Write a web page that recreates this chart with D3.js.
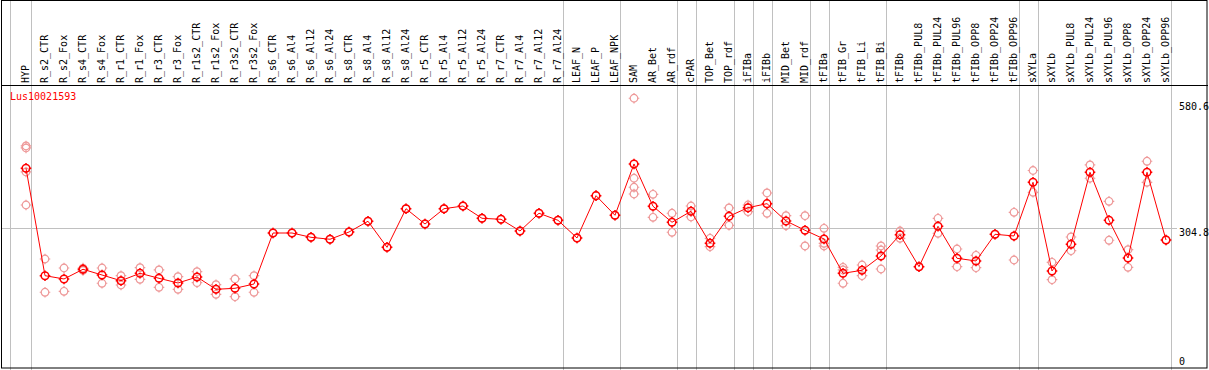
<!DOCTYPE html>
<html lang="en">
<head>
    <meta charset="utf-8">
    <title>Lus10021593</title>
    <script type="text/javascript" src="https://d3js.org/d3.v7.min.js"></script>
    <style>
        body { margin: 0; background: #fff; }
        text { font-family: "DejaVu Sans Mono", monospace; font-size: 10px; }
        .frame { fill: none; stroke: #000; stroke-width: 1; }
        .grid { stroke: #c0c0c0; stroke-width: 1; }
        .meanline { fill: none; stroke: #f00; stroke-width: 1; }
        .mean { fill: none; stroke: #f00; stroke-width: 1.5; }
        .rep { fill: none; stroke: #ee9a9a; stroke-width: 1.2; }
    </style>
</head>
<body>
<div id="container"></div>
<script type="text/javascript">
    const w = 1209;
    const h = 370;

    const gene = "Lus10021593";

    const samples = ["HYP", "R_s2_CTR", "R_s2_Fox", "R_s4_CTR", "R_s4_Fox", "R_r1_CTR", "R_r1_Fox",
        "R_r3_CTR", "R_r3_Fox", "R_r1s2_CTR", "R_r1s2_Fox", "R_r3s2_CTR", "R_r3s2_Fox",
        "R_s6_CTR", "R_s6_Al4", "R_s6_Al12", "R_s6_Al24", "R_s8_CTR", "R_s8_Al4", "R_s8_Al12", "R_s8_Al24",
        "R_r5_CTR", "R_r5_Al4", "R_r5_Al12", "R_r5_Al24", "R_r7_CTR", "R_r7_Al4", "R_r7_Al12", "R_r7_Al24",
        "LEAF_N", "LEAF_P", "LEAF_NPK", "SAM", "AR_Bet", "AR_rdf", "cPAR", "TOP_Bet", "TOP_rdf",
        "iFIBa", "iFIBb", "MID_Bet", "MID_rdf", "tFIBa", "tFIB_Gr", "tFIB_Li", "tFIB_Bi",
        "tFIBb", "tFIBb_PUL8", "tFIBb_PUL24", "tFIBb_PUL96", "tFIBb_OPP8", "tFIBb_OPP24", "tFIBb_OPP96",
        "sXYLa", "sXYLb", "sXYLb_PUL8", "sXYLb_PUL24", "sXYLb_PUL96", "sXYLb_OPP8", "sXYLb_OPP24", "sXYLb_OPP96"];

    // mean expression per sample
    const means = [435.5, 200.5, 193.3, 214.5, 202.0, 189.5, 205.7, 194.8, 184.5, 197.6, 170.7, 172.9, 182.3,
        293.9, 293.9, 284.5, 280.2, 296.1, 319.6, 262.6, 347.1, 313.6, 347.1, 353.0, 326.1, 323.9, 298.3, 337.1, 321.7,
        283.0, 375.6, 332.7, 445.0, 352.4, 317.4, 341.4, 271.4, 330.5, 349.3, 358.1, 320.2, 299.9, 280.8,
        205.7, 212.3, 243.6, 290.2, 220.2, 308.6, 238.6, 232.7, 291.1, 287.4,
        404.9, 210.8, 269.2, 426.8, 321.7, 239.2, 426.8, 278.6];

    // replicate values per sample
    const reps = [
        [484.4, 480.0, 427.5, 355.2], [237.0, 164.2], [217.3, 166.3], [217.0, 212.0], [217.3, 183.9],
        [200.5, 180.1], [218.0, 192.6], [213.0, 175.1], [198.3, 170.7], [209.2, 185.2], [180.8, 159.8],
        [193.3, 154.5], [200.5, 164.2],
        [293.9], [293.9], [284.5], [280.2], [296.1], [319.6], [262.6], [347.1],
        [313.6], [347.1], [353.0], [326.1], [323.9], [298.3], [337.1], [321.7],
        [283.0], [375.6], [332.7],
        [588.8, 413.7, 394.0, 379.3], [378.6, 328.3], [337.1, 295.5], [353.0, 329.0], [282.3, 264.0],
        [348.7, 310.8], [355.2, 340.6], [381.5, 337.1], [331.8, 309.9], [331.8, 265.5], [304.2, 271.4, 265.5],
        [218.9, 213.0, 183.9], [223.9, 200.5], [265.5, 256.7, 215.1],
        [298.3, 282.3], [220.2], [326.1, 293.3], [258.9, 220.2], [245.1, 218.0], [291.1], [339.2, 234.8],
        [430.7, 383.0], [229.8, 191.7], [285.2, 255.2], [442.8, 413.7], [363.3, 278.0], [257.4, 218.9],
        [450.9, 404.9], [278.6]];

    // index of the last sample in each group (separator drawn after it)
    const groupEnds = [0, 28, 31, 34, 35, 37, 38, 39, 41, 42, 45, 52, 53, 60];
    const ticks = [0, 304.8, 580.6];

    const svg = d3.select("div#container").append("svg")
        .attr("width", w).attr("height", h);

    const x = d3.scalePoint().domain(samples).range([26, 1166]);
    const y = d3.scaleLinear().domain([0, 580.6]).range([367.3, 102]);
    const headerY = 85;

    // vertical group separators
    svg.append("line").attr("class", "grid")
        .attr("x1", 10.5).attr("x2", 10.5).attr("y1", 0).attr("y2", h);
    svg.selectAll("line.sep")
        .data(groupEnds)
        .enter()
        .append("line")
        .attr("class", "grid sep")
        .attr("x1", d => Math.round(x(samples[d]) + 4.5) + 0.5)
        .attr("x2", d => Math.round(x(samples[d]) + 4.5) + 0.5)
        .attr("y1", 0).attr("y2", h);

    // middle gridline
    svg.append("line").attr("class", "grid")
        .attr("x1", 1).attr("x2", 1177)
        .attr("y1", Math.round(y(ticks[1])) + 0.5).attr("y2", Math.round(y(ticks[1])) + 0.5);

    // frame and header separator
    svg.append("rect").attr("class", "frame")
        .attr("x", 1.5).attr("y", 0.5).attr("width", 1207 - 1.5).attr("height", 368 - 0.5);
    svg.append("line").attr("stroke", "#000")
        .attr("x1", 1).attr("x2", 1208).attr("y1", headerY + 0.5).attr("y2", headerY + 0.5);

    // sample labels
    svg.selectAll("text.sample")
        .data(samples)
        .enter()
        .append("text")
        .attr("class", "sample")
        .attr("transform", d => "translate(" + (x(d) + 2.5) + "," + (headerY - 2) + ") rotate(-90)")
        .text(d => d);

    // value labels on the right
    svg.selectAll("text.tick")
        .data(ticks)
        .enter()
        .append("text")
        .attr("class", "tick")
        .attr("x", 1179)
        .attr("y", d => Math.min(y(d) + 8, 365))
        .text(d => d === 0 ? "0" : d.toFixed(1));

    // gene name
    svg.append("text")
        .attr("x", 10).attr("y", 100)
        .attr("fill", "#f00")
        .text(gene);

    function marker(g, r) {
        g.append("circle").attr("r", r);
        g.append("path").attr("d",
            "M0," + (-r - 1.5) + "V" + (-r + 0.5) + "M0," + (r - 0.5) + "V" + (r + 1.5) +
            "M" + (-r - 1.5) + ",0H" + (-r + 0.5) + "M" + (r - 0.5) + ",0H" + (r + 1.5));
    }

    // replicates
    const repData = [];
    reps.forEach((vals, i) => vals.forEach(v => repData.push({s: samples[i], v: v})));
    svg.selectAll("g.rep")
        .data(repData)
        .enter()
        .append("g")
        .attr("class", "rep")
        .attr("transform", d => "translate(" + x(d.s) + "," + y(d.v) + ")")
        .each(function () { marker(d3.select(this), 3.8); });

    // mean line and points
    const line = d3.line().x((d, i) => x(samples[i])).y(d => y(d));
    svg.append("path").datum(means).attr("class", "meanline").attr("d", line);

    svg.selectAll("g.mean")
        .data(means)
        .enter()
        .append("g")
        .attr("class", "mean")
        .attr("transform", (d, i) => "translate(" + x(samples[i]) + "," + y(d) + ")")
        .each(function () { marker(d3.select(this), 3.8); });
</script>
</body>
</html>
